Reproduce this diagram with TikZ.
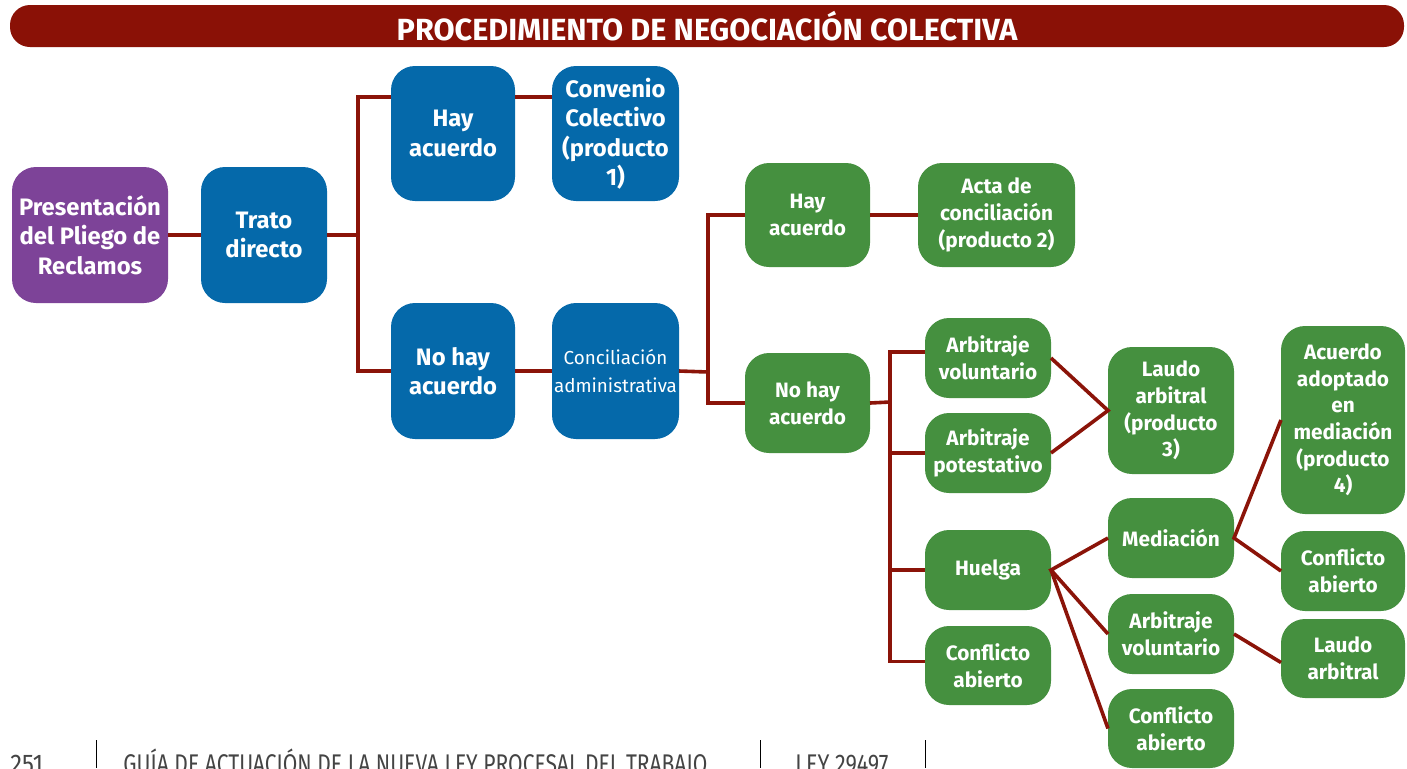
\documentclass[tikz,border=0pt]{standalone}
\usepackage{fontspec}
\setmainfont{Fira Sans}
\usetikzlibrary{calc}
\definecolor{tred}{HTML}{8A1106}
\definecolor{cred}{HTML}{8B1409}
\definecolor{purp}{HTML}{7D4398}
\definecolor{blu}{HTML}{0569AA}
\definecolor{grn}{HTML}{45903F}
\definecolor{foot}{HTML}{444444}
\newcommand\bx[7]{\node[#6, minimum width={(#4-#2)*0.5pt}, minimum height={(#5-#3)*0.5pt}] (#1) at ({(#2+#4)/2},{(#3+#5)/2}) {#7};}
\tikzset{
  box/.style={rounded corners=12pt, inner sep=0pt, outer sep=0pt, text=white, align=center},
  pbox/.style={box, fill=purp, font=\bfseries\fontsize{11.9}{14.75}\selectfont},
  bbox/.style={box, fill=blu, font=\bfseries\fontsize{11.9}{14.75}\selectfont},
  rbox/.style={box, fill=blu, font=\fontsize{9.4}{14}\selectfont},
  gbox/.style={box, fill=grn, font=\bfseries\fontsize{10.4}{13.3}\selectfont},
  conn/.style={draw=cred, line width=1.8pt},
  foottext/.style={text=foot, inner sep=0pt, anchor=base west, font=\fontsize{13.5}{14}\selectfont},
}
\begin{document}
\begin{tikzpicture}[x=0.5pt, y=-0.5pt]
\useasboundingbox (0,0) rectangle (1407,768);
% title
\node[fill=tred, rounded corners=10pt, minimum width=697pt, minimum height=21pt, inner sep=0pt,
  text=white, font=\bfseries\fontsize{15.3}{17}\selectfont] (title) at (707,26) {PROCEDIMIENTO DE NEGOCIACIÓN COLECTIVA};
% boxes
\bx{pres}{12}{167}{168}{303}{pbox}{Presentación\\del Pliego de\\Reclamos}
\bx{trato}{201}{167}{327}{303}{bbox}{Trato\\directo}
\bx{hayA}{391}{66}{515}{201}{bbox}{Hay\\acuerdo}
\bx{conv}{552}{66}{679}{201}{bbox}{Convenio\\Colectivo\\(producto\\1)}
\bx{nohayA}{391}{303}{515}{439}{bbox}{No hay\\acuerdo}
\bx{conc}{552}{303}{679}{439}{rbox}{Conciliación\\administrativa}
\bx{hayB}{745}{163}{870}{267}{gbox}{Hay\\acuerdo}
\bx{acta}{918}{163}{1075}{267}{gbox}{Acta de\\conciliación\\(producto 2)}
\bx{nohayB}{745}{353}{870}{453}{gbox}{No hay\\acuerdo}
\bx{arbvolA}{925}{318}{1051}{398}{gbox}{Arbitraje\\voluntario}
\bx{arbpot}{925}{413}{1051}{493}{gbox}{Arbitraje\\potestativo}
\bx{huelga}{925}{530}{1051}{610}{gbox}{Huelga}
\bx{confA}{925}{626}{1051}{705}{gbox}{Conflicto\\abierto}
\bx{laudoA}{1108}{347}{1234}{474}{gbox}{Laudo\\arbitral\\(producto\\3)}
\bx{acu}{1281}{326}{1405}{514}{gbox}{Acuerdo\\adoptado\\en\\mediación\\(producto\\4)}
\bx{med}{1108}{498}{1234}{578}{gbox}{Mediación}
\bx{confB}{1281}{531}{1405}{611}{gbox}{Conflicto\\abierto}
\bx{arbvolB}{1108}{594}{1234}{674}{gbox}{Arbitraje\\voluntario}
\bx{laudoB}{1281}{619}{1405}{698}{gbox}{Laudo\\arbitral}
\bx{confC}{1108}{689}{1234}{768}{gbox}{Conflicto\\abierto}
% connectors
\coordinate (j1) at (358,235);
\coordinate (j2) at (708,372);
\coordinate (j3) at (890,402);
\draw[conn] (pres.east) -- (trato.west);
\draw[conn] (trato.east) -- (j1);
\draw[conn] ([yshift=18.25pt]hayA.west) -| (j1) |- (nohayA.west);
\draw[conn] ([yshift=18.25pt]hayA.east) -- ([yshift=18.25pt]conv.west);
\draw[conn] (nohayA.east) -- (conc.west);
\draw[conn] (conc.east) -- (j2);
\draw[conn] (hayB.west) -| (j2) |- (nohayB.west);
\draw[conn] (hayB.east) -- (acta.west);
\draw[conn] (nohayB.east) -- (j3);
\draw[conn] ([yshift=3pt]arbvolA.west) -| (j3) |- ([yshift=2pt]confA.west);
\draw[conn] (arbpot.west) -- (arbpot.west -| j3);
\draw[conn] (huelga.west) -- (huelga.west -| j3);
\draw[conn] (arbvolA.east) -- (laudoA.west) -- (arbpot.east);
\draw[conn] (med.west) -- (huelga.east) -- (arbvolB.west);
\draw[conn] (huelga.east) -- (confC.west);
\draw[conn] (acu.west) -- (med.east) -- (confB.west);
\draw[conn] (arbvolB.east) -- ([yshift=-2pt]laudoB.west);
% footer
\node[foottext] (pg) at (10,773) {\scalebox{0.88}[1]{251}};
\node[foottext] (guia) at (123,773) {\scalebox{0.78}[1]{GUÍA DE ACTUACIÓN DE LA NUEVA LEY PROCESAL DEL TRABAJO}};
\node[foottext] (ley) at (795,773) {\scalebox{0.8}[1]{LEY 29497}};
\draw[black, line width=0.5pt] (96,740) -- (96,768);
\draw[black, line width=0.5pt] (760,740) -- (760,768);
\draw[black, line width=0.5pt] (925,740) -- (925,768);
\end{tikzpicture}
\end{document}
